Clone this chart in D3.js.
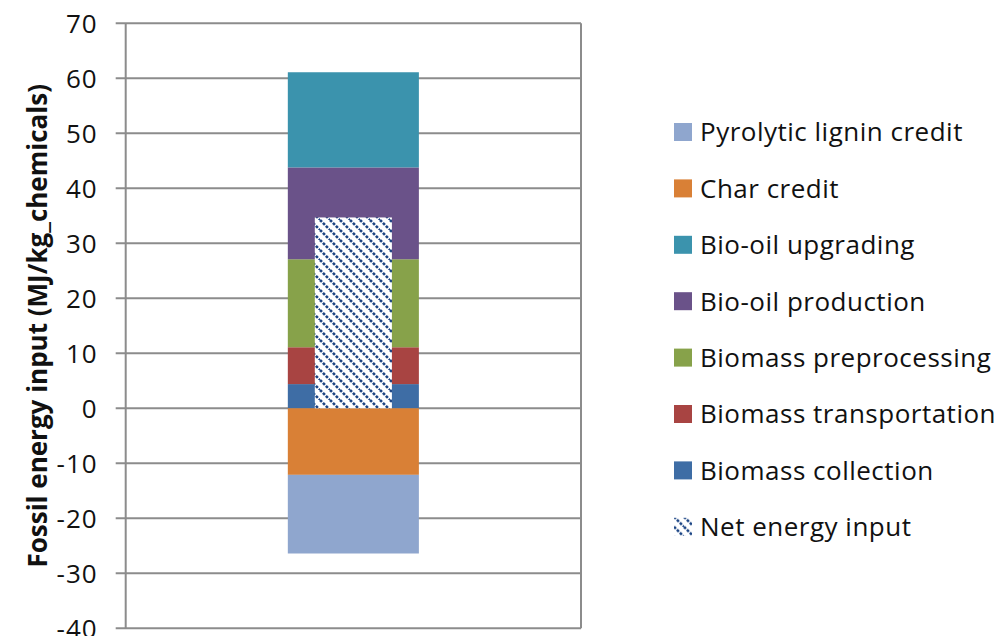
<!DOCTYPE html>
<html><head><meta charset="utf-8">
<script src="https://cdn.jsdelivr.net/npm/d3@7"></script>
<style>body{margin:0;background:#fff}svg{display:block}</style>
</head><body>
<svg id="c" width="1007" height="636"></svg>
<script>
// Data
const stages = ["Biomass collection","Biomass transportation","Biomass preprocessing","Bio-oil production","Bio-oil upgrading"];
const stageValues = [4.4, 6.7, 16.0, 16.7, 17.3];
const credits = ["Char credit","Pyrolytic lignin credit"];
const creditValues = [-12.1, -14.3];
const netLabel = "Net energy input";
const netValue = 34.7;
const yTicks = [-40,-30,-20,-10,0,10,20,30,40,50,60,70];
const legendOrder = ["Pyrolytic lignin credit","Char credit","Bio-oil upgrading","Bio-oil production","Biomass preprocessing","Biomass transportation","Biomass collection","Net energy input"];
const colors = {
  "Pyrolytic lignin credit":"#8FA6CE",
  "Char credit":"#D98036",
  "Bio-oil upgrading":"#3B93AD",
  "Bio-oil production":"#6A5289",
  "Biomass preprocessing":"#87A24A",
  "Biomass transportation":"#A84442",
  "Biomass collection":"#3E6DA5"
};

(function(){
const svg = d3.select("#c");
const pL = 125.7, pR = 581, pT = 23.3, pB = 628.3;
const y = d3.scaleLinear().domain([-40,70]).range([pB, pT]);
const x = d3.scaleBand().domain(["all"]).range([pL, pR]).paddingInner(0).paddingOuter(1.237);
const xn = d3.scaleBand().domain(["net"]).range([0, x.bandwidth()]).paddingOuter(0.35);

const defs = svg.append("defs");
const pat = defs.append("pattern").attr("id","hatch").attr("patternUnits","userSpaceOnUse")
  .attr("width",10).attr("height",10);
pat.append("rect").attr("width",10).attr("height",10).attr("fill","#fff");
pat.append("path").attr("d","M-3,-3 L13,13 M-3,7 L3,13 M7,-3 L13,3").attr("stroke","#1C4585")
  .attr("stroke-width",2.6).attr("stroke-dasharray","2.8,1.4");

// gridlines
svg.append("g").selectAll("line").data(yTicks).join("line")
  .attr("x1", pL-10).attr("x2", pR).attr("y1", d=>y(d)).attr("y2", d=>y(d))
  .attr("stroke","#8c8c8c").attr("stroke-width",2);
// axis lines
svg.append("line").attr("x1",pL).attr("x2",pL).attr("y1",pT).attr("y2",pB).attr("stroke","#8c8c8c").attr("stroke-width",2);
svg.append("line").attr("x1",pR).attr("x2",pR).attr("y1",pT).attr("y2",pB).attr("stroke","#8c8c8c").attr("stroke-width",2);

// y labels
const yAxis = d3.axisLeft(y).tickValues(yTicks).tickSize(0).tickPadding(0).tickFormat(d=>String(d));
const ga = svg.append("g").attr("transform",`translate(${pL-28},0)`).call(yAxis);
ga.select(".domain").remove();
ga.selectAll("text").attr("font-family","'Open Sans', sans-serif").attr("font-size",26)
  .attr("letter-spacing","1px").attr("fill","#111").attr("dy","0.36em");

// stacked positive
let cum = 0;
const posData = stages.map((s,i)=>{const o={name:s,y0:cum,y1:cum+stageValues[i]}; cum+=stageValues[i]; return o;});
cum = 0;
const negData = credits.map((s,i)=>{const o={name:s,y0:cum,y1:cum+creditValues[i]}; cum+=creditValues[i]; return o;});
svg.append("g").selectAll("rect").data(posData.concat(negData)).join("rect")
  .attr("x", x("all")).attr("width", x.bandwidth())
  .attr("y", d=>y(Math.max(d.y0,d.y1))).attr("height", d=>Math.abs(y(d.y0)-y(d.y1)))
  .attr("fill", d=>colors[d.name]);
// net
svg.append("rect").attr("x", x("all")+xn("net")).attr("width", xn.bandwidth())
  .attr("y", y(netValue)).attr("height", y(0)-y(netValue)).attr("fill","url(#hatch)");

// y title
svg.append("text").attr("transform",`translate(47,${(pT+pB)/2}) rotate(-90)`)
  .attr("text-anchor","middle").attr("font-family","'Open Sans', sans-serif").attr("font-weight","bold")
  .attr("font-size",26).attr("fill","#111").text("Fossil energy input (MJ/kg_chemicals)");

// legend
const lg = svg.append("g").selectAll("g").data(legendOrder).join("g")
  .attr("transform",(d,i)=>`translate(674,${132 + i*56.4})`);
lg.append("rect").attr("x",0).attr("y",-9).attr("width",18).attr("height",18)
  .attr("fill", d=> d===netLabel ? "url(#hatch)" : colors[d]);
lg.append("text").attr("x",26).attr("y",0).attr("dy","0.36em")
  .attr("font-family","'Open Sans', sans-serif").attr("font-size",26).attr("letter-spacing","0.5px")
  .attr("fill","#111").text(d=>d);
})();
</script>
</body></html>
